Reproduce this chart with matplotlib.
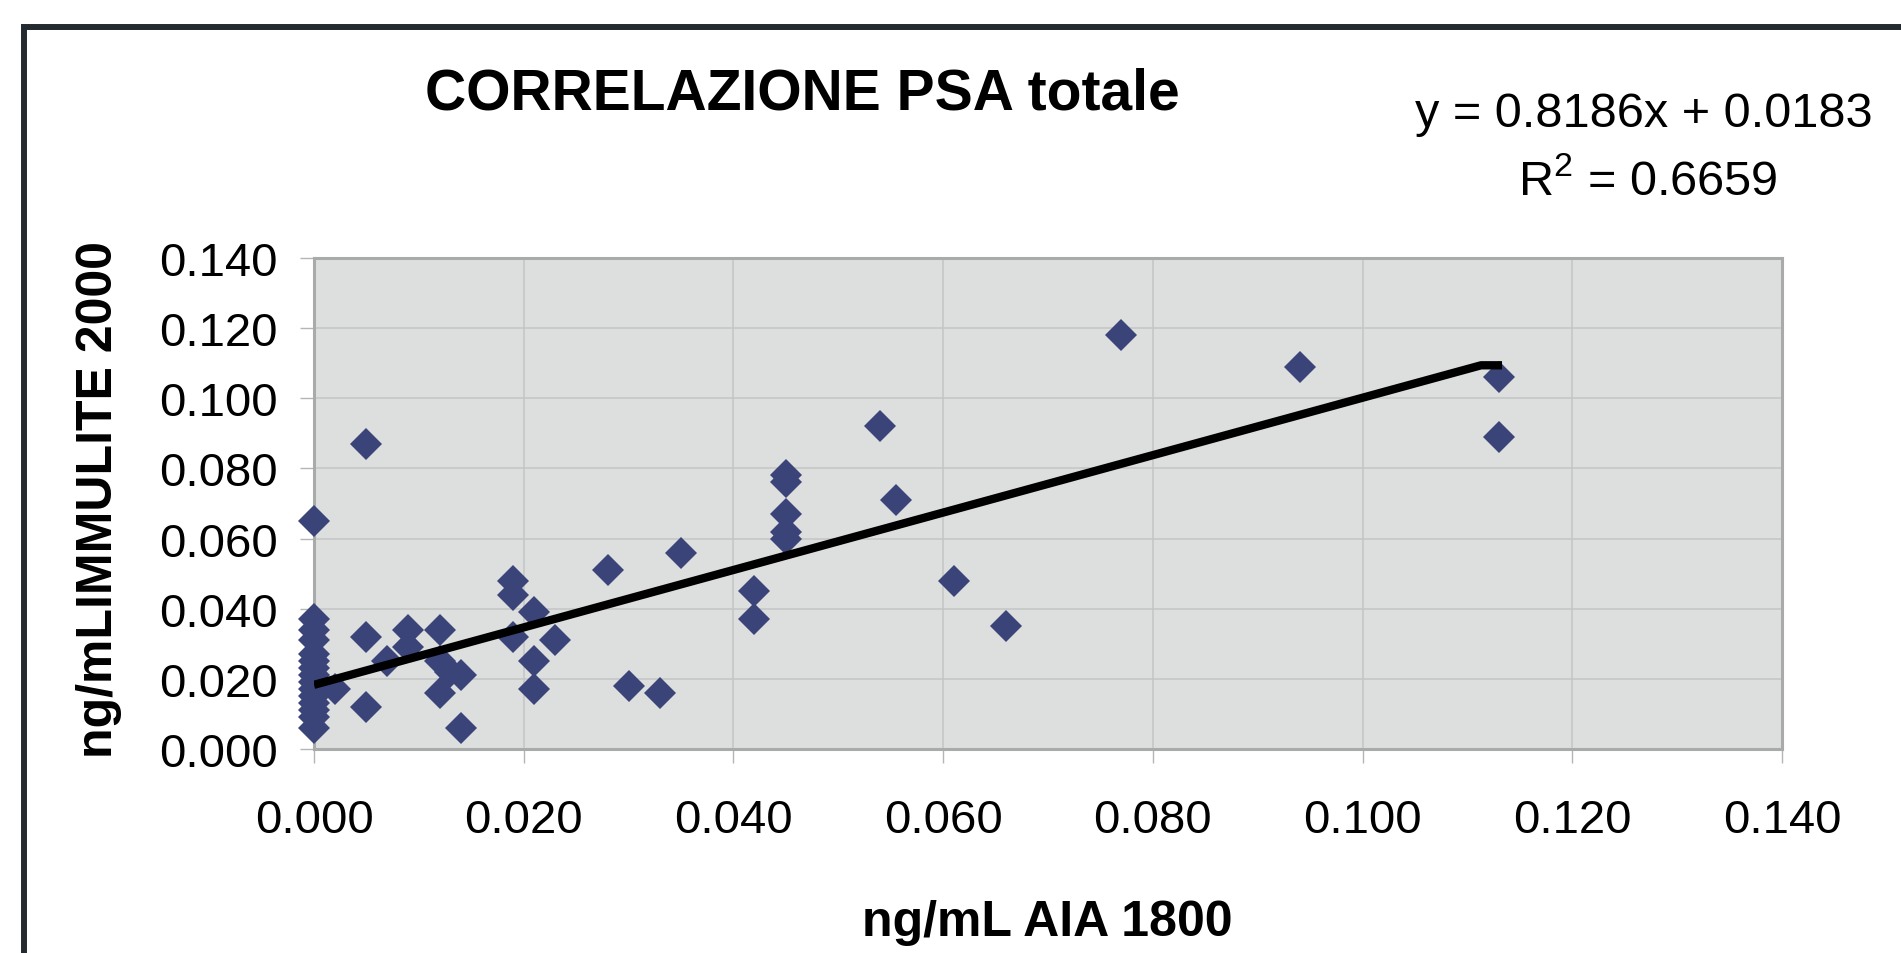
import matplotlib
matplotlib.use("Agg")
import matplotlib.pyplot as plt
from matplotlib.patches import Rectangle
import numpy as np

# ---- data ----
aia_1800 = [0.000, 0.000, 0.000, 0.000, 0.000, 0.000, 0.000, 0.000, 0.000, 0.000,
            0.000, 0.000, 0.000, 0.000, 0.000,
            0.002, 0.005, 0.005, 0.005, 0.007, 0.009, 0.009,
            0.012, 0.012, 0.012, 0.013, 0.014, 0.014,
            0.019, 0.019, 0.019, 0.021, 0.021, 0.021, 0.023,
            0.028, 0.030, 0.033, 0.035, 0.042, 0.042,
            0.045, 0.045, 0.045, 0.045, 0.045,
            0.054, 0.0555, 0.061, 0.066, 0.077, 0.094, 0.113, 0.113]
immulite_2000 = [0.065, 0.037, 0.034, 0.031, 0.027, 0.025, 0.023, 0.021, 0.019, 0.017,
                 0.015, 0.013, 0.011, 0.009, 0.006,
                 0.017, 0.087, 0.032, 0.012, 0.025, 0.034, 0.029,
                 0.034, 0.025, 0.016, 0.022, 0.021, 0.006,
                 0.048, 0.044, 0.032, 0.039, 0.025, 0.017, 0.031,
                 0.051, 0.018, 0.016, 0.056, 0.045, 0.037,
                 0.078, 0.076, 0.067, 0.062, 0.060,
                 0.092, 0.071, 0.048, 0.035, 0.118, 0.109, 0.106, 0.089]

slope = 0.8186
intercept = 0.0183
r_squared = 0.6659
trend_x = [0.0, 0.1113, 0.1133]

ticks = [0.000, 0.020, 0.040, 0.060, 0.080, 0.100, 0.120, 0.140]
tick_labels = ["0.000", "0.020", "0.040", "0.060", "0.080", "0.100", "0.120", "0.140"]

title = "CORRELAZIONE PSA totale"
xlabel = "ng/mL AIA 1800"
ylabel = "ng/mLIMMULITE 2000"
eq_text = "y = 0.8186x + 0.0183"
r2_text = "R$^{2}$ = 0.6659"

# ---- figure ----
W, H = 1901, 954
plt.rcParams['font.family'] = ['Liberation Sans', 'DejaVu Sans']
plt.rcParams['mathtext.fontset'] = 'custom'
plt.rcParams['mathtext.rm'] = 'Liberation Sans'
plt.rcParams['mathtext.it'] = 'Liberation Sans'
plt.rcParams['mathtext.default'] = 'rm'
fig = plt.figure(figsize=(W / 100, H / 100), dpi=100)
fig.patch.set_facecolor('white')

# outer frame (only top and left visible)
fig.add_artist(Rectangle((24 / W, -0.2), 1.5, (H - 27.5) / H + 0.2,
                         transform=fig.transFigure, fill=False,
                         edgecolor='#232a30', linewidth=4.3))

L, R, T, B = 314, 1782, 259, 750
ax = fig.add_axes([L / W, (H - B) / H, (R - L) / W, (B - T) / H])
ax.set_facecolor('#dddede')
ax.set_xlim(0, 0.14)
ax.set_ylim(0, 0.14)
ax.set_xticks(ticks)
ax.set_yticks(ticks)
ax.set_xticklabels(tick_labels)
ax.set_yticklabels(tick_labels)
ax.grid(True, color='#c3c4c4', linewidth=1.1)
ax.set_axisbelow(True)
for s in ax.spines.values():
    s.set_color('#a9aaaa')
    s.set_linewidth(2.2)
ax.tick_params(axis='both', direction='out', length=10, width=1.0,
               color='#b5b5b5', labelsize=34, labelcolor='black')
ax.tick_params(axis='x', pad=25)
ax.tick_params(axis='y', pad=16)

ax.plot(aia_1800, immulite_2000, linestyle='none', marker='D', markersize=16.5,
        markerfacecolor='#3a4479', markeredgewidth=0, clip_on=False, zorder=3)

trend_y = [slope * x + intercept for x in trend_x[:2]]
trend_y.append(trend_y[-1])
ax.plot(trend_x, trend_y, color='black', linewidth=6, solid_capstyle='butt',
        solid_joinstyle='round', zorder=4)

# texts
fig.text(802 / W, 1 - 110 / H, title, ha='center', va='baseline',
         fontsize=41, fontweight='bold')
fig.text(1644 / W, 1 - 126.7 / H, eq_text, ha='center', va='baseline', fontsize=35)
fig.text(1647 / W, 1 - 195 / H, r2_text, ha='center', va='baseline', fontsize=35)
fig.text(1047 / W, 1 - 936 / H, xlabel, ha='center', va='baseline',
         fontsize=36, fontweight='bold')
fig.text(112 / W, 1 - 500 / H, ylabel, ha='center', va='baseline', rotation=90,
         rotation_mode='anchor', fontsize=36, fontweight='bold')

fig.savefig('out.png', dpi=100)
